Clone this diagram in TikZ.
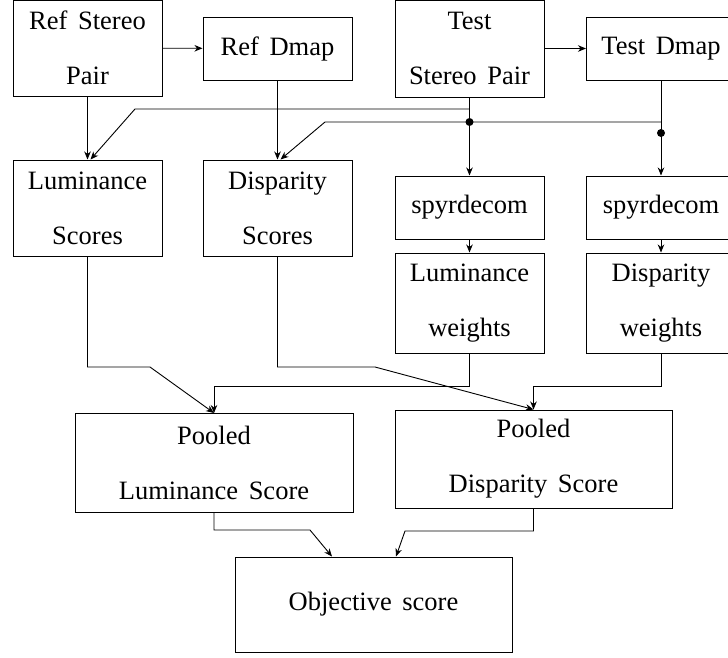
\documentclass[tikz,border=0pt]{standalone}
\usepackage{fontspec}
\setmainfont[WordSpace=1.6]{Liberation Serif}
\usetikzlibrary{arrows.meta}
\begin{document}
\begin{tikzpicture}[x=1pt,y=-1pt,
  box/.style={draw,line width=1pt,inner sep=0pt,align=center,
    font=\rmfamily\fontsize{26.5}{55}\selectfont,minimum width=149pt},
  conn/.style={line width=0.9pt},
  arr/.style={conn,-{Stealth[length=8pt,width=6.5pt,inset=2.5pt]}},
  jdot/.style={circle,fill=black,inner sep=0pt,minimum size=8pt}]
\useasboundingbox (0,0) rectangle (728,657);
% boxes
\node[box,minimum height=96pt] (rsp) at (87.5,48) {Ref Stereo\\Pair};
\node[box,minimum height=63pt] (rdm) at (277.5,48.5) {Ref Dmap};
\node[box,minimum height=97pt] (tsp) at (469.5,48.5) {Test\\Stereo Pair};
\node[box,minimum height=63pt] (tdm) at (661,48.5) {Test Dmap};
\node[box,minimum height=96pt] (ls) at (87.5,208) {Luminance\\Scores};
\node[box,minimum height=96pt] (ds) at (277.5,208) {Disparity\\Scores};
\node[box,minimum height=63pt] (sp1) at (469.5,207.5) {spyrdecom};
\node[box,minimum height=63pt] (sp2) at (661,207.5) {spyrdecom};
\node[box,minimum height=100pt] (lw) at (469.5,303) {Luminance\\weights};
\node[box,minimum height=100pt] (dw) at (661,303) {Disparity\\weights};
\node[box,minimum width=278pt,minimum height=99pt] (pl) at (214,463) {Pooled\\Luminance Score};
\node[box,minimum width=277pt,minimum height=98pt] (pd) at (533.5,459) {Pooled\\Disparity Score};
\node[box,minimum width=277pt,minimum height=95pt] (obj) at (373.5,604.5) {Objective score};
% junction coordinates
\coordinate (j1) at (469.5,109);
\coordinate (k1) at (135,109);
\coordinate (j2) at (661,122);
\coordinate (k2) at (325,122);
\coordinate (b1) at (87.5,367);
\coordinate (c1) at (150,367);
\coordinate (b2) at (277.5,367);
\coordinate (c2) at (375,367);
\coordinate (b3) at (469.5,386);
\coordinate (b4) at (661,386);
\coordinate (b5) at (214,530);
\coordinate (c5) at (310,530);
\coordinate (b6) at (533.5,531);
\coordinate (c6) at (405,531);
% top connectors
\draw[arr] (rsp) -- (rdm);
\draw[arr] (tsp) -- (tdm);
\draw[arr] (rsp) -- (ls);
\draw[arr] (rdm) -- (ds);
\draw[arr] (tsp) -- (sp1);
\draw[arr] (tdm) -- (sp2);
\draw[arr] (j1) -- (k1) -- ([xshift=3pt]ls.north);
\draw[arr] (j2) -- (k2) -- ([xshift=3pt]ds.north);
\node[jdot] (d1) at (469.5,122) {};
\node[jdot] (d2) at (661,133) {};
% middle connectors
\draw[arr] (sp1) -- (lw);
\draw[arr] (sp2) -- (dw);
% bottom connectors
\draw[arr] (ls.south) -- (b1) -- (c1) -- (pl.north);
\draw[arr] (ds.south) -- (b2) -- (c2) -- (pd.north);
\draw[arr] (lw.south) -- (b3) -| (pl.north);
\draw[arr] (dw.south) -- (b4) -| (pd.north);
\draw[arr] (pl.south) -- (b5) -- (c5) -- ([xshift=-41.5pt]obj.north);
\draw[arr] (pd.south) -- (b6) -- (c6) -- ([xshift=22.5pt]obj.north);
\end{tikzpicture}
\end{document}
